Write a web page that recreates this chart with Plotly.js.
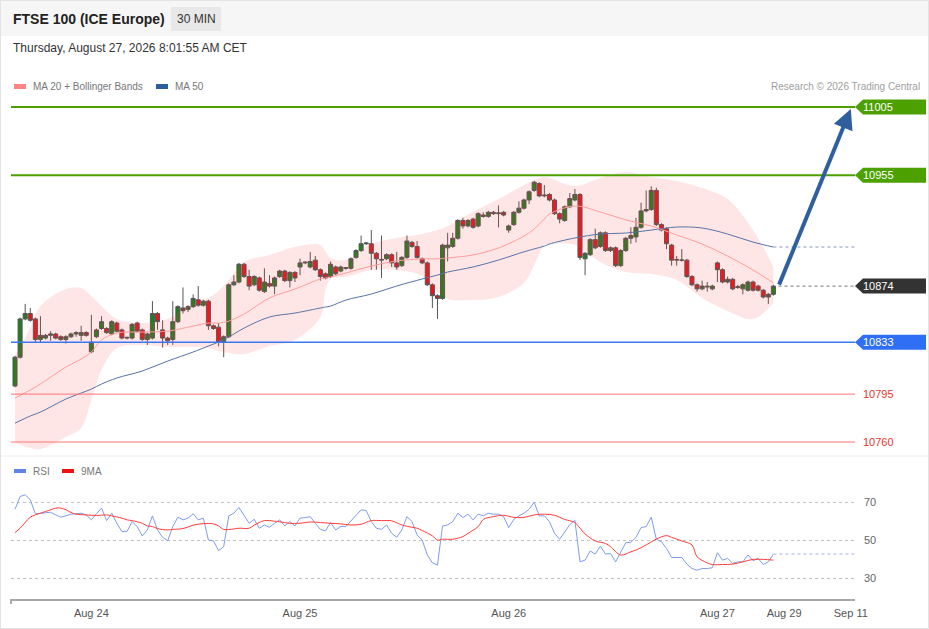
<!DOCTYPE html>
<html>
<head>
<meta charset="utf-8">
<script src="https://cdn.plot.ly/plotly-3.0.1.min.js"></script>
<style>html,body{margin:0;padding:0;background:#fff;}#chart{width:929px;height:629px;}</style>
</head>
<body>
<div id="chart"></div>
<script>
// ---- Candles (30 min), oldest first ----
const open  = [10801,10822,10850,10854,10850,10835,10836,10838,10839,10837,10835,10837,10839,10838,10840,
10826,10837,10843,10843,10839,10847,10842,10836,10836,10847,10842,10835,10836,10854,10842,10836,10835,10848,10858,10857,10859,10864,10860,10863,10845,10844,10833,
10837,10875,10877,10890,10881,10875,10880,10870,10876,10874,10881,10885,10878,10884,
10888,10891,10888,10893,10886,10883,10881,10888,10885,10887,10887,10895,10900,10905,10905,10898,10893,10894,10897,10891,10889,10895,10906,10903,10894,10891,10875,10867,10865,10902,10903,10909,10922,10918,10923,10918,10926,10925,10928,10927,10928,
10915,10919,10928,10931,10937,10944,10949,10940,10941,10937,10927,10922,10932,10937,10941,10894,10897,10908,10903,10913,10900,10902,10889,10900,10909,10910,10917,10929,10930,10944,10919,10916,10904,10893,10893,10893,10881,10875,10872,10874,10872,
10891,10886,10877,10879,10873,10872,10871,10877,10874,10871,10866,10868];
const high  = [10823,10851,10861,10858,10851,10852,10839,10841,10840,10838,10838,10840,10841,10845,10841,
10853,10843,10852,10844,10849,10848,10843,10837,10847,10848,10843,10840,10863,10855,10849,10837,10863,10860,10873,10860,10868,10874,10864,10864,10846,10847,10838,
10876,10882,10891,10891,10886,10882,10881,10887,10882,10881,10886,10886,10885,10885,
10894,10892,10899,10896,10887,10884,10892,10889,10889,10888,10895,10901,10911,10906,10915,10899,10911,10898,10898,10899,10896,10911,10907,10907,10895,10892,10876,10868,10905,10913,10913,10923,10924,10923,10924,10928,10928,10929,10929,10933,10929,
10919,10929,10936,10938,10944,10951,10950,10948,10942,10938,10928,10933,10942,10945,10942,10899,10909,10916,10914,10914,10903,10903,10901,10910,10917,10924,10935,10944,10947,10946,10920,10917,10905,10896,10901,10894,10882,10876,10878,10877,10875,
10892,10887,10881,10880,10875,10876,10878,10878,10875,10872,10869,10875];
const low   = [10800,10821,10849,10848,10833,10833,10835,10834,10835,10834,10832,10836,10837,10834,10837,
10825,10836,10842,10839,10838,10840,10835,10835,10835,10840,10834,10831,10835,10842,10829,10831,10831,10847,10854,10855,10858,10859,10859,10842,10842,10830,10822,
10836,10874,10876,10880,10871,10874,10870,10869,10873,10868,10880,10877,10873,10877,
10882,10890,10887,10885,10878,10879,10880,10882,10884,10886,10886,10894,10899,10904,10886,10886,10880,10893,10888,10886,10888,10894,10902,10894,10890,10874,10858,10850,10864,10892,10902,10908,10916,10917,10916,10917,10924,10924,10926,10917,10925,
10913,10918,10927,10930,10934,10943,10939,10939,10936,10926,10920,10921,10931,10936,10893,10882,10896,10901,10902,10899,10899,10888,10888,10899,10905,10906,10916,10928,10929,10918,10914,10901,10889,10889,10892,10880,10874,10870,10871,10870,10871,
10877,10876,10876,10871,10872,10868,10870,10870,10870,10865,10861,10867];
const close = [10822,10850,10854,10849,10835,10838,10838,10839,10836,10835,10837,10839,10840,10840,10838,
10833,10842,10848,10840,10848,10841,10836,10836.5,10846,10841,10835,10839,10854,10848,10836,10834,10848,10859,10856,10859,10865,10860,10863,10845,10843,10833,10837,
10875,10877,10890,10881,10874,10881,10871,10877,10874,10880,10885,10878,10884,10880,
10891,10891.5,10892,10886,10881,10880,10890,10883,10888,10887.5,10894,10900,10905,10905.5,10898,10894,10893.5,10897,10891,10888,10895,10907,10903,10895,10891,10875,10867,10865,10904,10904,10909,10922,10918,10922,10917,10927,10925,10928,10927,10927.5,10926,
10918,10928,10931,10937,10943,10950,10940,10940.5,10937,10927,10923,10932,10938,10941,10895,10898,10908,10902,10913,10900,10902,10889,10900,10909,10911,10917,10929,10930,10944,10919,10915,10905,10893,10893.5,10893,10881,10875,10872,10874,10873.5,10874,
10886,10877,10879,10872,10873.5,10875,10877,10871,10871,10866,10868,10874];

// ---- Moving averages & Bollinger bands (sampled at candle index) ----
const maIdx   = [0,3,5,10,13,15,17,20,25,30,35,38,40,42,45,50,55,60,61,62,65,70,75,80,83,85,90,95,100,102,104,105,110,115,120,125,130,135,140,145,149];
const ma20    = [10792.1,10798.0,10802.4,10814.8,10820.7,10825.8,10834.6,10839.7,10840.4,10841.1,10844.8,10847.0,10847.0,10848.4,10853.6,10865.3,10871.9,10879.2,10879.9,10880.6,10883.6,10888.7,10892.4,10893.9,10893.9,10894.6,10896.8,10901.9,10910.6,10915.8,10923.1,10926.7,10932.6,10928.2,10922.4,10918.0,10911.4,10904.8,10896.0,10885.8,10876.3];
const bbUpper = [10823.6,10843.3,10859.4,10871.9,10872.6,10866.8,10859.4,10849.9,10847.0,10849.9,10861.6,10865.3,10870.4,10878.5,10891.7,10896.8,10902.6,10904.1,10899.1,10894.6,10893.1,10904.8,10909.2,10912.1,10915.0,10918.0,10928.2,10937.7,10947.9,10951.6,10953.8,10953.1,10947.2,10953.1,10957.5,10953.8,10950.9,10945.7,10937.7,10915.0,10888.0];
const bbLower = [10759.2,10755.6,10754.8,10763.6,10770.2,10790.7,10812.6,10828.7,10830.9,10829.5,10829.5,10828.7,10826.5,10825.1,10824.4,10830.2,10834.6,10851.4,10871.1,10879.2,10880.6,10885.8,10885.8,10881.4,10869.7,10864.6,10863.8,10866.0,10876.3,10889.4,10904.1,10904.8,10904.1,10891.7,10884.3,10882.8,10878.5,10865.3,10855.8,10849.9,10861.6];
const ma50    = [10773.8,10779.0,10781.9,10791.4,10795.8,10798.7,10802.4,10806.8,10811.9,10819.2,10825.8,10830.2,10833.1,10836.8,10843.3,10851.4,10854.3,10858.0,10858.7,10859.4,10863.8,10868.2,10874.1,10879.2,10882.1,10884.3,10888.0,10893.1,10899.1,10901.2,10903.3,10904.8,10909.2,10912.1,10912.8,10915.0,10917.2,10916.5,10912.1,10906.2,10902.6];

// ---- RSI (one per candle) and its 9MA (sampled) ----
const rsi = [66.2,72.9,73.8,71.2,63.8,64.1,64.5,64.6,63.2,62.0,62.7,63.6,63.8,64.1,63.2,60.6,63.8,66.8,60.2,64.1,
58.8,54.4,54.4,59.7,57.1,52.1,55.3,62.7,55.3,51.4,49.6,57.1,62.0,60.6,61.5,63.8,60.6,61.5,50.0,49.5,
44.4,46.5,62.7,64.1,67.1,62.7,58.8,60.9,56.2,57.9,56.7,58.8,60.6,57.4,59.7,57.4,61.5,61.8,62.3,58.8,
55.6,54.8,59.2,55.3,57.1,57.1,60.2,63.2,65.9,65.5,59.7,56.2,55.6,57.9,53.5,51.4,55.3,62.3,59.7,52.6,
50.0,42.1,38.0,36.8,57.4,57.9,59.7,64.1,61.8,63.6,60.6,63.6,62.7,64.1,63.6,63.6,62.3,56.5,60.9,62.7,
64.1,66.2,69.9,62.7,62.7,59.7,53.5,50.4,54.4,58.1,60.4,38.5,39.4,44.2,42.6,46.8,42.6,42.9,38.5,43.8,
48.6,48.8,51.4,56.5,57.1,62.0,50.4,49.1,45.6,40.8,40.8,40.8,37.3,35.0,34.1,35.0,35.0,35.4,43.3,39.4,
40.3,37.7,38.5,38.5,42.1,39.1,40.3,37.1,38.5,42.6];
const ma9Idx = [0,1,2,3,4,5,7,8,9,10,11,12,14,16,18,19,21,22,23,25,26,27,28,30,31,33,35,37,39,40,41,43,44,46,47,49,51,53,54,56,58,60,62,64,66,68,70,72,74,76,78,79,80,82,83,84,86,88,89,91,92,94,96,98,100,102,104,106,108,109,110,111,112,114,116,117,119,121,122,124,126,128,129,131,133,134,136,137,139,141,143,145,147,149];
const ma9 = [53.9,56.2,59.2,62.0,63.2,64.1,65.9,66.8,66.8,65.9,64.5,63.6,63.2,62.9,63.2,62.7,61.5,60.6,60.2,58.8,57.4,57.1,56.0,55.3,55.6,56.0,57.8,58.6,58.5,57.4,55.6,55.8,56.2,56.2,57.8,60.2,59.9,59.2,58.8,58.8,59.5,59.2,58.8,58.5,57.9,58.3,60.2,60.2,60.1,57.9,56.7,56.2,55.0,52.2,50.0,50.4,50.4,51.8,53.5,57.1,60.8,62.3,63.0,61.9,61.9,63.2,63.6,63.0,60.8,60.1,59.2,56.2,53.2,49.5,48.2,46.5,42.1,43.8,44.7,47.4,50.5,52.3,51.4,49.5,47.4,41.2,38.0,37.1,37.1,37.3,38.5,39.8,39.8,39.4];

// ---- Axis ticks and key levels ----
const tickPos   = [15,56,97,138,151.1,164.2];
const tickText  = ['Aug 24','Aug 25','Aug 26','Aug 27','Aug 29','Sep 11'];
const resistances = [11005,10955];
const lastPrice = 10874;
const pivot = 10833;
const supports = [10795,10760];
const target = 11005;

// ---- layout geometry ----
const W = 929, H = 629, L = 11, R = 74, T = 95, B = 30;
const PW = W - L - R, PH = H - T - B;
const px = x => (x - L) / PW;
const py = y => (H - B - y) / PH;
const xMin = -0.786, xMax = 165.03;
const idx = open.map((_, i) => i);
const last = idx.length - 1;
const font = 'Liberation Sans, Arial, sans-serif';

const traces = [
  {x: maIdx, y: bbLower, type: 'scatter', mode: 'lines', line: {width: 0, shape: 'spline'}, hoverinfo: 'skip', showlegend: false},
  {x: maIdx, y: bbUpper, type: 'scatter', mode: 'lines', line: {width: 0, shape: 'spline'}, fill: 'tonexty', fillcolor: 'rgba(255,60,60,0.13)', hoverinfo: 'skip', showlegend: false},
  {x: maIdx, y: ma50, type: 'scatter', mode: 'lines', line: {color: '#5873a8', width: 1, shape: 'spline'}, showlegend: false},
  {x: [maIdx[maIdx.length-1], xMax], y: [ma50[ma50.length-1], ma50[ma50.length-1]], type: 'scatter', mode: 'lines', line: {color: '#8a97b8', width: 1, dash: 'dot'}, showlegend: false},
  {x: maIdx, y: ma20, type: 'scatter', mode: 'lines', line: {color: '#ff9c9c', width: 1, shape: 'spline'}, showlegend: false},
  {x: idx, open: open, high: high, low: low, close: close, type: 'candlestick', whiskerwidth: 0,
   increasing: {line: {color: '#555555', width: 1}, fillcolor: '#1f7f1f'},
   decreasing: {line: {color: '#555555', width: 1}, fillcolor: '#e8141c'}, showlegend: false},
  {x: idx, y: rsi, xaxis: 'x', yaxis: 'y2', type: 'scatter', mode: 'lines', line: {color: '#7f9ced', width: 1}, showlegend: false},
  {x: [last, xMax], y: [rsi[last], rsi[last]], xaxis: 'x', yaxis: 'y2', type: 'scatter', mode: 'lines', line: {color: '#9fb2ee', width: 1, dash: 'dot'}, showlegend: false},
  {x: ma9Idx, y: ma9, xaxis: 'x', yaxis: 'y2', type: 'scatter', mode: 'lines', line: {color: '#ff3b3b', width: 1, shape: 'spline'}, showlegend: false}
];

const shapes = [];
const ann = [];
// header
shapes.push({type: 'rect', xref: 'paper', yref: 'paper', x0: px(0), x1: px(W), y0: py(36), y1: py(0), fillcolor: '#f6f6f6', line: {width: 0}, layer: 'below'});
shapes.push({type: 'rect', xref: 'paper', yref: 'paper', x0: px(171), x1: px(221), y0: py(31), y1: py(7), fillcolor: '#e8e8e8', line: {width: 0}, layer: 'below'});
shapes.push({type: 'line', xref: 'paper', yref: 'paper', x0: px(0), x1: px(W), y0: py(456), y1: py(456), line: {color: '#eeeeee', width: 1}});
shapes.push({type: 'rect', xref: 'paper', yref: 'paper', x0: px(0.5), x1: px(W - 0.5), y0: py(H - 0.5), y1: py(0.5), line: {color: '#e3e3e3', width: 1}});
shapes.push({type: 'line', xref: 'paper', yref: 'paper', x0: 0, x1: 0, y0: 0, y1: py(604), line: {color: '#aaaaaa', width: 2}});
// legend swatches
shapes.push({type: 'rect', xref: 'paper', yref: 'paper', x0: px(14), x1: px(26), y0: py(89), y1: py(84), fillcolor: '#ff8585', line: {width: 0}});
shapes.push({type: 'rect', xref: 'paper', yref: 'paper', x0: px(156), x1: px(168), y0: py(89), y1: py(84), fillcolor: '#2f5e9e', line: {width: 0}});
shapes.push({type: 'rect', xref: 'paper', yref: 'paper', x0: px(14), x1: px(26), y0: py(473), y1: py(469), fillcolor: '#5f86e6', line: {width: 0}});
shapes.push({type: 'rect', xref: 'paper', yref: 'paper', x0: px(62), x1: px(74), y0: py(473), y1: py(469), fillcolor: '#ee1111', line: {width: 0}});

// level lines
resistances.forEach(v => shapes.push({type: 'line', xref: 'paper', yref: 'y', x0: 0, x1: 1, y0: v, y1: v, line: {color: '#4ca000', width: 2}}));
shapes.push({type: 'line', xref: 'paper', yref: 'y', x0: 0, x1: 1, y0: pivot, y1: pivot, line: {color: '#3a78f2', width: 1.5}});
supports.forEach(v => shapes.push({type: 'line', xref: 'paper', yref: 'y', x0: 0, x1: 1, y0: v, y1: v, line: {color: '#ff7474', width: 1}}));
shapes.push({type: 'line', xref: 'x', yref: 'y', x0: last + 1, x1: xMax, y0: lastPrice, y1: lastPrice, line: {color: '#777777', width: 1, dash: 'dot'}});

// right-hand label tags
const hh = 7.5 / 1.367;
const tx0 = 1, tx1 = 1 + 8 / PW, tx2 = 1 + 71 / PW;
function tag(v, color) {
  shapes.push({type: 'path', xref: 'paper', yref: 'y',
    path: `M ${tx0},${v} L ${tx1},${v + hh} L ${tx2},${v + hh} L ${tx2},${v - hh} L ${tx1},${v - hh} Z`,
    fillcolor: color, line: {width: 0}});
  ann.push({xref: 'paper', yref: 'y', x: px(861), y: v, text: String(v), showarrow: false, xanchor: 'left', yanchor: 'middle', font: {family: font, size: 11, color: '#ffffff'}});
}
resistances.forEach(v => tag(v, '#4ca000'));
tag(lastPrice, '#333333');
tag(pivot, '#2f6ff5');
supports.forEach(v => ann.push({xref: 'paper', yref: 'y', x: px(861), y: v, text: String(v), showarrow: false, xanchor: 'left', yanchor: 'middle', font: {family: font, size: 11, color: '#e8342c'}}));

// forecast arrow
ann.push({xref: 'x', yref: 'y', axref: 'x', ayref: 'y', x: 164.2, y: target - 1.5, ax: last + 1, ay: close[last], text: '', showarrow: true, arrowhead: 2, arrowsize: 1, arrowwidth: 4, arrowcolor: '#2f5f9f', standoff: 0});

// texts
ann.push({xref: 'paper', yref: 'paper', x: px(11), y: py(19), text: '<b>FTSE 100 (ICE Europe)</b>', showarrow: false, xanchor: 'left', yanchor: 'middle', font: {family: font, size: 14, color: '#222222'}});
ann.push({xref: 'paper', yref: 'paper', x: px(196), y: py(19), text: '30 MIN', showarrow: false, xanchor: 'center', yanchor: 'middle', font: {family: font, size: 12, color: '#333333'}});
ann.push({xref: 'paper', yref: 'paper', x: px(11), y: py(48), text: 'Thursday, August 27, 2026 8:01:55 AM CET', showarrow: false, xanchor: 'left', yanchor: 'middle', font: {family: font, size: 12, color: '#333333'}});
ann.push({xref: 'paper', yref: 'paper', x: px(31), y: py(86.5), text: 'MA 20 + Bollinger Bands', showarrow: false, xanchor: 'left', yanchor: 'middle', font: {family: font, size: 10, color: '#777777'}});
ann.push({xref: 'paper', yref: 'paper', x: px(173), y: py(86.5), text: 'MA 50', showarrow: false, xanchor: 'left', yanchor: 'middle', font: {family: font, size: 10, color: '#777777'}});
ann.push({xref: 'paper', yref: 'paper', x: px(922), y: py(86.5), text: 'Research © 2026 Trading Central', showarrow: false, xanchor: 'right', yanchor: 'middle', font: {family: font, size: 10, color: '#a0a0a0'}});
ann.push({xref: 'paper', yref: 'paper', x: px(31), y: py(471), text: 'RSI', showarrow: false, xanchor: 'left', yanchor: 'middle', font: {family: font, size: 10, color: '#777777'}});
ann.push({xref: 'paper', yref: 'paper', x: px(79), y: py(471), text: '9MA', showarrow: false, xanchor: 'left', yanchor: 'middle', font: {family: font, size: 10, color: '#777777'}});

const layout = {
  width: W, height: H,
  margin: {l: L, r: R, t: T, b: B, pad: 0},
  paper_bgcolor: '#ffffff', plot_bgcolor: 'rgba(0,0,0,0)',
  showlegend: false, dragmode: false, hovermode: false,
  boxgap: 0.12, boxgroupgap: 0.1,
  font: {family: font, size: 11, color: '#555555'},
  xaxis: {range: [xMin, xMax], anchor: 'y2', rangeslider: {visible: false}, showgrid: false, zeroline: false,
          showline: true, linecolor: '#aaaaaa', linewidth: 2, ticks: '', tickvals: tickPos, ticktext: tickText,
          ticklabelstandoff: 3, tickfont: {family: font, size: 11, color: '#555555'}, fixedrange: true},
  yaxis: {domain: [py(455), 1], range: [10760 - 13 / 1.367, 11005 + 12 / 1.367], showgrid: false, zeroline: false,
          showticklabels: false, showline: false, fixedrange: true},
  yaxis2: {domain: [0, py(480)], range: [30 - 21 / 1.9, 70 + 22 / 1.9], tickvals: [30, 50, 70], side: 'right',
           showgrid: true, griddash: 'dot', gridcolor: '#c2c2c2', gridwidth: 1, zeroline: false, showline: false, ticks: '',
           ticklabelstandoff: 8, tickfont: {family: font, size: 11, color: '#666666'}, fixedrange: true},
  shapes: shapes,
  annotations: ann
};

Plotly.newPlot('chart', traces, layout, {displayModeBar: false, staticPlot: true});
</script>
</body>
</html>
